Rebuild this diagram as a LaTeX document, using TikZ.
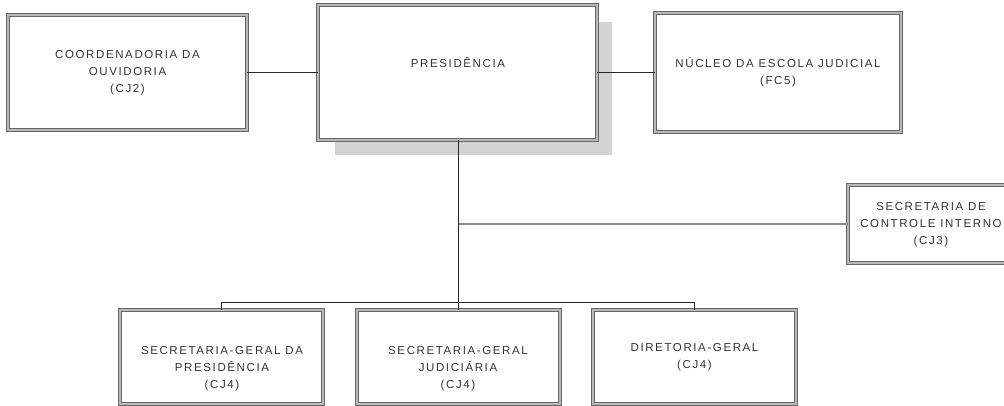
\documentclass[tikz,border=0pt]{standalone}
\usepackage{fontspec}
\setmainfont{Liberation Sans}
\newfontfamily\lblfont[LetterSpace=14]{Liberation Sans}
\begin{document}
\begin{tikzpicture}[x=1pt,y=-1pt,
  orgbox/.style={draw=black!60, line width=0.9pt, double=gray!55, double distance=1.5pt, fill=white, inner sep=0pt},
  shadowbox/.style={fill=gray!35, draw=none},
  lbl/.style={align=center, text=black!80, inner sep=0pt, font=\lblfont\fontsize{11.5}{17}\selectfont},
  conn/.style={draw=black!85, line width=0.9pt},
  conngray/.style={draw=black!45, line width=1.2pt}]
\useasboundingbox (0,0) rectangle (1004,405);
% shadow of Presidencia
\fill[shadowbox] (335,22) rectangle (612,155);
% boxes
\node[orgbox, minimum width=239pt, minimum height=115pt] (coord) at (127.5,72.5) {};
\node[orgbox, minimum width=279pt, minimum height=135pt] (pres) at (457.5,72.5) {};
\node[orgbox, minimum width=246pt, minimum height=119pt] (nucleo) at (778,72.5) {};
\node[orgbox, minimum width=166pt, minimum height=78pt] (sci) at (931,224) {};
\node[orgbox, minimum width=203pt, minimum height=94pt] (sga) at (221.5,357) {};
\node[orgbox, minimum width=203pt, minimum height=94pt] (sgj) at (458.5,357) {};
\node[orgbox, minimum width=203pt, minimum height=94pt] (dg) at (694.5,357) {};
% texts
\node[lbl] (tcoord) at (127.5,72.5) {COORDENADORIA DA\\OUVIDORIA\\(CJ2)};
\node[lbl] (tpres) at (458,63) {PRESIDÊNCIA};
\node[lbl] (tnucleo) at (778,72.5) {NÚCLEO DA ESCOLA JUDICIAL\\(FC5)};
\node[lbl] (tsci) at (931,225) {SECRETARIA DE\\CONTROLE INTERNO\\(CJ3)};
\node[lbl] (tsga) at (222,369) {SECRETARIA-GERAL DA\\PRESIDÊNCIA\\(CJ4)};
\node[lbl] (tsgj) at (458,369) {SECRETARIA-GERAL\\JUDICIÁRIA\\(CJ4)};
\node[lbl] (tdg) at (694.5,357.5) {DIRETORIA-GERAL\\(CJ4)};
% connectors
\coordinate (bus) at (458,302);
\draw[conn] (coord.east) -- (pres.west);
\draw[conn] (pres.east) -- (nucleo.west);
\draw[conngray] (sci.west) -- (sci.west -| bus);
\draw[conn] (bus |- pres.south) -- (bus |- sgj.north);
\draw[conn] (sga.north) -- (sga.north |- bus) -- (dg.north |- bus) -- (dg.north);
\end{tikzpicture}
\end{document}
